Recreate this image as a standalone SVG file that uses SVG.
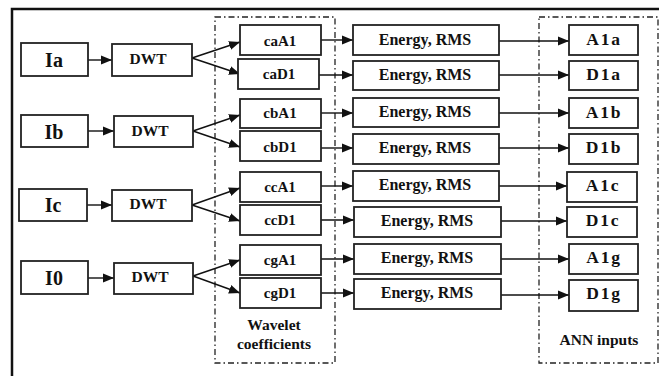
<svg xmlns="http://www.w3.org/2000/svg" width="659" height="376" viewBox="0 0 659 376" font-family="Liberation Serif" font-weight="bold">
<style>
.b{fill:#fff;stroke:#222;stroke-width:1.8}
.g{fill:none;stroke:#222;stroke-width:1.3;stroke-dasharray:6 3 1.5 3}
.c{stroke:#111;stroke-width:1.4;fill:none}
text{fill:#111;text-anchor:middle}
.big{font-size:20px}
.d{font-size:15.5px}
.m{font-size:15px}
.e{font-size:16px}
.o{font-size:17.5px;letter-spacing:1.8px}
.l{font-size:15.5px}
</style>
<defs>
<marker id="ah" markerUnits="userSpaceOnUse" markerWidth="12" markerHeight="10" refX="11" refY="5" orient="auto">
<path d="M0,0.5 L11,5 L0,9.5 z" fill="#111"/>
</marker>
</defs>
<rect x="12" y="9" width="660" height="380" fill="#fff" stroke="#111" stroke-width="2.5"/>
<g id="groups">
<rect class="g" x="215" y="17" width="120" height="346"/>
<rect class="g" x="539" y="17" width="119" height="346"/>
<text class="l" x="274" y="330">Wavelet</text>
<text class="l" x="274" y="349">coefficients</text>
<text class="l" x="599" y="345">ANN  inputs</text>
</g>
<g id="connectors">
<line class="c" x1="88" y1="60" x2="112" y2="60" marker-end="url(#ah)"/>
<line class="c" x1="88" y1="131" x2="114" y2="131" marker-end="url(#ah)"/>
<line class="c" x1="87" y1="205" x2="112" y2="205" marker-end="url(#ah)"/>
<line class="c" x1="88" y1="278" x2="114" y2="278" marker-end="url(#ah)"/>
<line class="c" x1="192" y1="58" x2="240" y2="42" marker-end="url(#ah)"/>
<line class="c" x1="192" y1="58" x2="240" y2="74" marker-end="url(#ah)"/>
<line class="c" x1="193" y1="131" x2="240" y2="115" marker-end="url(#ah)"/>
<line class="c" x1="193" y1="131" x2="240" y2="147" marker-end="url(#ah)"/>
<line class="c" x1="192" y1="205" x2="240" y2="188" marker-end="url(#ah)"/>
<line class="c" x1="192" y1="205" x2="240" y2="221" marker-end="url(#ah)"/>
<line class="c" x1="193" y1="276" x2="240" y2="260" marker-end="url(#ah)"/>
<line class="c" x1="193" y1="276" x2="240" y2="293" marker-end="url(#ah)"/>
<line class="c" x1="321" y1="40" x2="353" y2="40" marker-end="url(#ah)"/>
<line class="c" x1="319" y1="75" x2="353" y2="75" marker-end="url(#ah)"/>
<line class="c" x1="321" y1="113" x2="353" y2="113" marker-end="url(#ah)"/>
<line class="c" x1="321" y1="148" x2="353" y2="148" marker-end="url(#ah)"/>
<line class="c" x1="321" y1="186" x2="353" y2="186" marker-end="url(#ah)"/>
<line class="c" x1="321" y1="220" x2="354" y2="220" marker-end="url(#ah)"/>
<line class="c" x1="321" y1="259" x2="354" y2="259" marker-end="url(#ah)"/>
<line class="c" x1="321" y1="293" x2="354" y2="293" marker-end="url(#ah)"/>
<line class="c" x1="499" y1="41" x2="569" y2="41" marker-end="url(#ah)"/>
<line class="c" x1="499" y1="75" x2="569" y2="75" marker-end="url(#ah)"/>
<line class="c" x1="499" y1="113" x2="569" y2="113" marker-end="url(#ah)"/>
<line class="c" x1="499" y1="148" x2="569" y2="148" marker-end="url(#ah)"/>
<line class="c" x1="499" y1="186" x2="567" y2="186" marker-end="url(#ah)"/>
<line class="c" x1="501" y1="221" x2="567" y2="221" marker-end="url(#ah)"/>
<line class="c" x1="501" y1="259" x2="569" y2="259" marker-end="url(#ah)"/>
<line class="c" x1="501" y1="295" x2="569" y2="295" marker-end="url(#ah)"/>
</g>
<g id="Ia"><rect class="b" x="21" y="43" width="67" height="33"/><text class="big" x="54" y="67">Ia</text></g>
<g id="Ib"><rect class="b" x="21" y="115" width="67" height="32"/><text class="big" x="54" y="139">Ib</text></g>
<g id="Ic"><rect class="b" x="19" y="189" width="68" height="32"/><text class="big" x="53" y="212">Ic</text></g>
<g id="I0"><rect class="b" x="21" y="261" width="67" height="33"/><text class="big" x="54" y="285">I0</text></g>
<g id="DWTa"><rect class="b" x="112" y="44" width="80" height="32"/><text class="d" x="148" y="64">DWT</text></g>
<g id="DWTb"><rect class="b" x="114" y="116" width="79" height="31"/><text class="d" x="150" y="136">DWT</text></g>
<g id="DWTc"><rect class="b" x="112" y="190" width="80" height="31"/><text class="d" x="148" y="209">DWT</text></g>
<g id="DWTg"><rect class="b" x="114" y="263" width="79" height="31"/><text class="d" x="150" y="282">DWT</text></g>
<g id="caA1"><rect class="b" x="240" y="25" width="81" height="30"/><text class="m" x="280" y="46">caA1</text></g>
<g id="caD1"><rect class="b" x="238" y="59" width="81" height="30"/><text class="m" x="279" y="79">caD1</text></g>
<g id="cbA1"><rect class="b" x="240" y="99" width="81" height="29"/><text class="m" x="280" y="118">cbA1</text></g>
<g id="cbD1"><rect class="b" x="240" y="131" width="81" height="30"/><text class="m" x="280" y="152">cbD1</text></g>
<g id="ccA1"><rect class="b" x="240" y="172" width="81" height="30"/><text class="m" x="280" y="192">ccA1</text></g>
<g id="ccD1"><rect class="b" x="240" y="205" width="81" height="30"/><text class="m" x="280" y="225">ccD1</text></g>
<g id="cgA1"><rect class="b" x="240" y="245" width="81" height="30"/><text class="m" x="280" y="265">cgA1</text></g>
<g id="cgD1"><rect class="b" x="240" y="278" width="81" height="30"/><text class="m" x="280" y="298">cgD1</text></g>
<g id="E1"><rect class="b" x="353" y="25" width="146" height="30"/><text class="e" x="425" y="45">Energy, RMS</text></g>
<g id="E2"><rect class="b" x="353" y="61" width="146" height="29"/><text class="e" x="425" y="80">Energy, RMS</text></g>
<g id="E3"><rect class="b" x="353" y="98" width="146" height="29"/><text class="e" x="425" y="117">Energy, RMS</text></g>
<g id="E4"><rect class="b" x="353" y="134" width="146" height="30"/><text class="e" x="425" y="153">Energy, RMS</text></g>
<g id="E5"><rect class="b" x="353" y="171" width="146" height="30"/><text class="e" x="425" y="190">Energy, RMS</text></g>
<g id="E6"><rect class="b" x="354" y="207" width="147" height="30"/><text class="e" x="427" y="226">Energy, RMS</text></g>
<g id="E7"><rect class="b" x="354" y="244" width="147" height="30"/><text class="e" x="427" y="263">Energy, RMS</text></g>
<g id="E8"><rect class="b" x="354" y="279" width="147" height="30"/><text class="e" x="427" y="298">Energy, RMS</text></g>
<g id="A1a"><rect class="b" x="569" y="25" width="69" height="30"/><text class="o" x="604" y="45">A1a</text></g>
<g id="D1a"><rect class="b" x="569" y="61" width="69" height="29"/><text class="o" x="604" y="80">D1a</text></g>
<g id="A1b"><rect class="b" x="569" y="98" width="69" height="30"/><text class="o" x="604" y="118">A1b</text></g>
<g id="D1b"><rect class="b" x="569" y="134" width="69" height="30"/><text class="o" x="604" y="153">D1b</text></g>
<g id="A1c"><rect class="b" x="567" y="172" width="70" height="30"/><text class="o" x="603" y="191">A1c</text></g>
<g id="D1c"><rect class="b" x="567" y="207" width="70" height="30"/><text class="o" x="603" y="226">D1c</text></g>
<g id="A1g"><rect class="b" x="569" y="244" width="69" height="30"/><text class="o" x="604" y="263">A1g</text></g>
<g id="D1g"><rect class="b" x="569" y="280" width="69" height="31"/><text class="o" x="604" y="299">D1g</text></g>
</svg>
